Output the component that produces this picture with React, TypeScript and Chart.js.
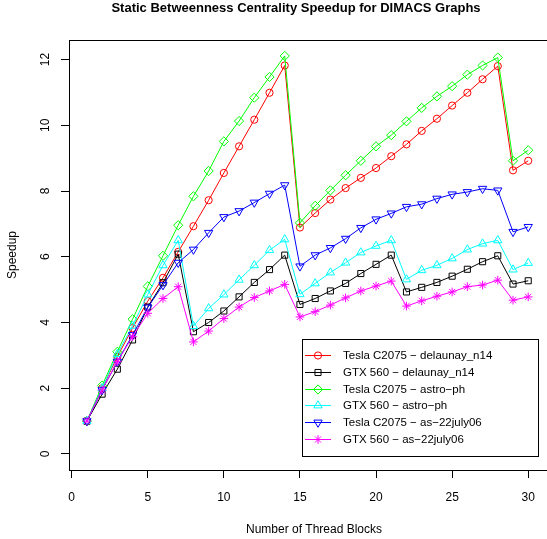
import React, { useEffect, useRef } from 'react';
import { Chart, registerables } from 'chart.js';
import { drawPoint } from 'chart.js/helpers';

Chart.register(...registerables);

const threadBlocks = [1, 2, 3, 4, 5, 6, 7, 8, 9, 10, 11, 12, 13, 14, 15, 16, 17, 18, 19, 20, 21, 22, 23, 24, 25, 26, 27, 28, 29, 30];

const teslaDelaunay = [1.0, 2.0, 2.96, 3.83, 4.65, 5.36, 6.15, 6.93, 7.72, 8.55, 9.36, 10.17, 10.99, 11.82, 6.89, 7.33, 7.74, 8.09, 8.40, 8.70, 9.06, 9.42, 9.83, 10.2, 10.6, 10.99, 11.40, 11.80, 8.63, 8.92];
const gtxDelaunay = [1.0, 1.82, 2.58, 3.47, 4.47, 5.21, 6.08, 3.72, 4.00, 4.35, 4.78, 5.22, 5.61, 6.05, 4.55, 4.73, 4.96, 5.19, 5.49, 5.77, 6.05, 4.93, 5.07, 5.22, 5.41, 5.62, 5.85, 6.03, 5.17, 5.27];
const teslaAstro = [1.0, 2.08, 3.11, 4.1, 5.1, 6.03, 6.96, 7.84, 8.61, 9.51, 10.13, 10.84, 11.47, 12.11, 7.03, 7.55, 8.02, 8.48, 8.92, 9.36, 9.70, 10.12, 10.53, 10.88, 11.19, 11.54, 11.82, 12.06, 8.92, 9.24];
const gtxAstro = [1.0, 2.0, 3.04, 3.90, 4.85, 5.74, 6.50, 3.89, 4.43, 4.85, 5.30, 5.74, 6.20, 6.53, 4.86, 5.19, 5.52, 5.82, 6.13, 6.33, 6.50, 5.31, 5.59, 5.74, 5.95, 6.22, 6.40, 6.50, 5.61, 5.81];
const teslaAs = [1.0, 1.95, 2.81, 3.62, 4.46, 5.14, 5.82, 6.22, 6.73, 7.21, 7.39, 7.65, 7.92, 8.18, 5.71, 6.05, 6.27, 6.55, 6.88, 7.14, 7.32, 7.52, 7.60, 7.77, 7.90, 7.97, 8.07, 8.02, 6.76, 6.91];
const gtxAs = [1.0, 1.95, 2.81, 3.57, 4.28, 4.73, 5.09, 3.41, 3.74, 4.12, 4.47, 4.76, 4.96, 5.16, 4.17, 4.33, 4.53, 4.75, 4.96, 5.11, 5.26, 4.50, 4.66, 4.80, 4.93, 5.09, 5.14, 5.29, 4.68, 4.78];

const seriesLabels = [
  'Tesla C2075 \u2212 delaunay_n14',
  'GTX 560 \u2212 delaunay_n14',
  'Tesla C2075 \u2212 astro\u2212ph',
  'GTX 560 \u2212 astro\u2212ph',
  'Tesla C2075 \u2212 as\u221222july06',
  'GTX 560 \u2212 as\u221222july06',
];

const xTicks = [0, 5, 10, 15, 20, 25, 30];
const yTicks = [0, 2, 4, 6, 8, 10, 12];

const chartTitle = 'Static Betweenness Centrality Speedup for DIMACS Graphs';
const xTitle = 'Number of Thread Blocks';
const yTitle = 'Speedup';

const FONT = "'Liberation Sans', Arial, Helvetica, sans-serif";

export default function App() {
  const ref = useRef<HTMLCanvasElement>(null);

  useEffect(() => {
    document.body.style.margin = '0';
    const canvas = ref.current;
    if (!canvas) return;

    const mk = (label: string, values: number[], color: string, style: string, radius: number, rotation: number, order: number) => ({
      label,
      data: values.map((y, i) => ({ x: threadBlocks[i], y })),
      borderColor: color,
      backgroundColor: 'transparent',
      borderWidth: 1,
      pointStyle: style,
      pointRadius: radius,
      pointRotation: rotation,
      pointBorderColor: color,
      pointBackgroundColor: 'transparent',
      pointBorderWidth: 1,
      tension: 0,
      order,
    });

    const datasets = [
      mk(seriesLabels[0], teslaDelaunay, '#ff0000', 'circle', 3.6, 0, 5),
      mk(seriesLabels[1], gtxDelaunay, '#000000', 'rect', 4.3, 0, 4),
      mk(seriesLabels[2], teslaAstro, '#00ff00', 'rectRot', 4.6, 0, 3),
      mk(seriesLabels[3], gtxAstro, '#00ffff', 'triangle', 4.8, 0, 2),
      mk(seriesLabels[4], teslaAs, '#0000ff', 'triangle', 4.8, 180, 1),
      mk(seriesLabels[5], gtxAs, '#ff00ff', 'star', 4.3, 0, 0),
    ];

    const framePlugin = {
      id: 'frameAndTexts',
      afterDraw(chart: any) {
        const { ctx, chartArea } = chart;
        const yScale = chart.scales.y;
        ctx.save();
        // top frame line, and bottom line continued to the right edge
        ctx.strokeStyle = '#000';
        ctx.lineWidth = 1;
        ctx.beginPath();
        ctx.moveTo(chartArea.left, Math.round(chartArea.top) + 0.5);
        ctx.lineTo(chart.width, Math.round(chartArea.top) + 0.5);
        ctx.moveTo(chartArea.right - 1, Math.round(chartArea.bottom) + 0.5);
        ctx.lineTo(chart.width, Math.round(chartArea.bottom) + 0.5);
        ctx.stroke();

        // y tick labels (rotated, R style)
        ctx.fillStyle = '#000';
        ctx.font = `12px ${FONT}`;
        ctx.textAlign = 'center';
        ctx.textBaseline = 'middle';
        yTicks.forEach((v) => {
          const py = yScale.getPixelForValue(v);
          ctx.save();
          ctx.translate(45.5, py);
          ctx.rotate(-Math.PI / 2);
          ctx.fillText(String(v), 0, 0);
          ctx.restore();
        });

        // main title
        ctx.font = `bold 13px ${FONT}`;
        ctx.fillText(chartTitle, 296, 8);

        // x axis title
        ctx.font = `12px ${FONT}`;
        ctx.fillText(xTitle, 314, 530);

        // legend
        const bx = 302.5, by = 339.5, bw = 236, bh = 117;
        ctx.fillStyle = '#fff';
        ctx.fillRect(bx, by, bw, bh);
        ctx.strokeStyle = '#000';
        ctx.strokeRect(bx, by, bw, bh);
        ctx.font = `11.5px ${FONT}`;
        ctx.textAlign = 'left';
        ctx.textBaseline = 'middle';
        chart.data.datasets.forEach((ds: any, i: number) => {
          const y = Math.round(355 + i * 16.8) + 0.5;
          ctx.strokeStyle = ds.borderColor;
          ctx.lineWidth = 1;
          ctx.beginPath();
          ctx.moveTo(305, y);
          ctx.lineTo(331, y);
          ctx.stroke();
          ctx.strokeStyle = ds.borderColor;
          ctx.fillStyle = 'rgba(0,0,0,0)';
          drawPoint(ctx, {
            pointStyle: ds.pointStyle,
            rotation: ds.pointRotation,
            radius: ds.pointRadius,
            borderWidth: 1,
          } as any, 318, y);
          ctx.fillStyle = '#000';
          ctx.fillText(ds.label, 343, y);
        });
        ctx.restore();
      },
    };

    const chart = new Chart(canvas, {
      type: 'line',
      data: { datasets: datasets as any },
      options: {
        responsive: false,
        animation: false,
        devicePixelRatio: 1,
        layout: { padding: { left: 0, top: 40, right: 0, bottom: 0 } },
        plugins: {
          legend: { display: false },
          title: { display: false },
          tooltip: { enabled: false },
        },
        scales: {
          x: {
            type: 'linear',
            min: -0.176,
            max: 30.55,
            afterBuildTicks: (s: any) => {
              s.ticks = xTicks.map((v) => ({ value: v }));
            },
            afterFit: (s: any) => {
              s.height = 69;
            },
            grid: { display: true, drawOnChartArea: false, drawTicks: true, tickLength: 8, color: '#000' },
            border: { display: true, color: '#000', width: 1 },
            ticks: { font: { family: FONT, size: 12 }, color: '#000', padding: 12, maxRotation: 0, autoSkip: false },
            title: { display: false },
          },
          y: {
            type: 'linear',
            min: -0.487,
            max: 12.595,
            afterBuildTicks: (s: any) => {
              s.ticks = yTicks.map((v) => ({ value: v }));
            },
            afterFit: (s: any) => {
              s.width = 69;
            },
            grid: { display: true, drawOnChartArea: false, drawTicks: true, tickLength: 8, color: '#000' },
            border: { display: true, color: '#000', width: 1 },
            ticks: { display: false },
            title: { display: true, text: yTitle, font: { family: FONT, size: 12 }, color: '#000', padding: { top: 5, bottom: 0 } },
          },
        },
      } as any,
      plugins: [framePlugin],
    });

    return () => chart.destroy();
  }, []);

  return <canvas ref={ref} width={547} height={539} style={{ display: 'block' }} />;
}
